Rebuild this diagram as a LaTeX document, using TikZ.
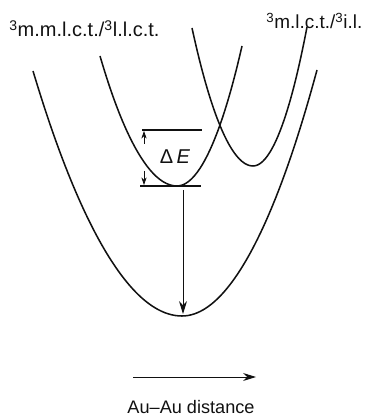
\documentclass[tikz,border=0pt]{standalone}
\usepackage{fontspec}
\setmainfont{Liberation Sans}
\usetikzlibrary{arrows.meta}
\definecolor{darkline}{HTML}{111111}
\tikzset{
  pes/.style={line width=1.15pt, draw=darkline},
  level/.style={line width=0.8pt, draw=darkline},
  gap/.style={-{Stealth[length=2mm, width=1.4mm]}, line width=0.6pt, draw=darkline},
  decay/.style={-{Stealth[length=3.4mm, width=2.1mm]}, line width=0.7pt, draw=darkline},
  statelabel/.style={font=\fontsize{15}{17}\selectfont, inner sep=0pt, text=darkline},
  axislabel/.style={font=\fontsize{13.6}{16}\selectfont, inner sep=0pt, text=darkline},
}

\begin{document}
\begin{tikzpicture}[x=0.75pt, y=-0.75pt]
\useasboundingbox (0,0) rectangle (364,416);

% ===== Potential energy curves =====
\draw[pes] (33,71) parabola bend (182,316) (317,70);   % ground state
\draw[pes] (100,56) parabola bend (177,186) (242,46);  % 3MMLCT
\draw[pes] (192,28) parabola bend (253,166) (307,27);  % 3MLCT

\node[statelabel, anchor=base west] (mmlct) at (9,37) {\textsuperscript{3}m.m.l.c.t./\textsuperscript{3}l.l.c.t.};
\node[statelabel, font=\fontsize{14.2}{16}\selectfont, anchor=base west] (mlct) at (266,29) {\textsuperscript{3}m.l.c.t./\textsuperscript{3}i.l.};

% ===== Activation gap =====
\coordinate (topL) at (142,130);
\coordinate (topR) at (202,130);
\coordinate (botL) at (140,186);
\coordinate (botR) at (201,186);
\draw[level] (topL) -- (topR);
\draw[level] (botL) -- (botR);
\coordinate (upA) at (144,144);
\coordinate (upB) at (144,131);
\coordinate (dnA) at (144,171);
\coordinate (dnB) at (144,185);
\draw[gap] (upA) -- (upB);
\draw[gap] (dnA) -- (dnB);
\node[statelabel] (dE) at (175,157) {Δ\,\textit{E}};

% ===== Emission =====
\coordinate (emitTop) at (183,190);
\coordinate (emitBot) at (183,314);
\draw[decay] (emitTop) -- (emitBot);

% ===== Axis =====
\coordinate (axL) at (133,377);
\coordinate (axR) at (256,377);
\draw[decay] (axL) -- (axR);
\node[axislabel, anchor=base] (dist) at (191,413) {Au--Au distance};

\end{tikzpicture}
\end{document}
